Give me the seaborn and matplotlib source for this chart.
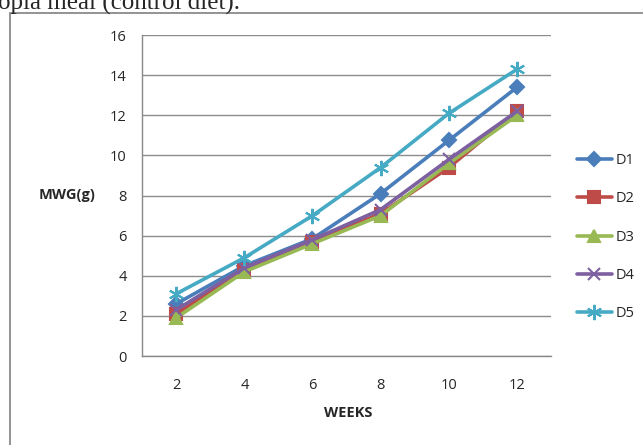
import numpy as np
import pandas as pd
import matplotlib
matplotlib.use("Agg")
import matplotlib.pyplot as plt
import seaborn as sns
from matplotlib.patches import Rectangle
from matplotlib.lines import Line2D

weeks = ["2", "4", "6", "8", "10", "12"]
d1 = [2.6, 4.5, 5.85, 8.1, 10.75, 13.4]
d2 = [2.1, 4.3, 5.7, 7.1, 9.4, 12.2]
d3 = [1.9, 4.2, 5.6, 7.0, 9.6, 12.0]
d4 = [2.3, 4.4, 5.8, 7.3, 9.8, 12.2]
d5 = [3.1, 4.9, 7.0, 9.4, 12.1, 14.3]
diets = ["D1", "D2", "D3", "D4", "D5"]

series = [d1, d2, d3, d4, d5]
colors = {"D1": "#4a7ebb", "D2": "#be4b48", "D3": "#98b954", "D4": "#7d60a0", "D5": "#46aac5"}
markers = {"D1": "D", "D2": "s", "D3": "^", "D4": "x", "D5": (6, 2, 0)}
msizes = {"D1": 7, "D2": 8, "D3": 9, "D4": 9, "D5": 11}

sns.set_style("white")
plt.rcParams['font.family'] = ['Open Sans', 'DejaVu Sans']

fig = plt.figure(figsize=(6.43, 4.45), dpi=100)
ax = fig.add_axes([0.221, 0.2, 0.636, 0.721])

pos = np.arange(len(weeks))
for name, vals in zip(diets, series):
    sns.lineplot(x=pos, y=vals, color=colors[name], marker=markers[name],
                 markersize=msizes[name], markeredgewidth=1.5,
                 markeredgecolor=colors[name], linewidth=2.6, ax=ax)

ax.set_xlim(-0.5, len(weeks) - 0.5)
ax.set_ylim(0, 16)
ax.set_yticks(range(0, 17, 2))
ax.set_xticks(pos)
ax.set_xticklabels(weeks)
ax.set_xticks(np.arange(-0.5, len(weeks), 1), minor=True)
ax.tick_params(axis="x", which="major", length=0, pad=16, labelsize=10.5)
ax.tick_params(axis="x", which="minor", length=6, color="#888888", width=1)
ax.tick_params(axis="y", length=5, color="#888888", width=1, labelsize=10.5, pad=6)
ax.yaxis.grid(True, color="#8c8c8c", linewidth=1)
ax.xaxis.grid(False)
ax.set_axisbelow(True)
for s in ["top", "right"]:
    ax.spines[s].set_visible(False)
for s in ["left", "bottom"]:
    ax.spines[s].set_color("#888888")
    ax.spines[s].set_linewidth(1)

ax.set_xlabel("")
ax.set_ylabel("")
fig.text(0.105, 0.562, "MWG(g)", fontsize=10.5, fontweight="bold", ha="center", va="center")
fig.text(0.542, 0.072, "WEEKS", fontsize=10.5, fontweight="bold", ha="center", va="center")

handles = [Line2D([], [], color=colors[d], marker=markers[d], linewidth=2.6,
                  markersize=msizes[d], markeredgewidth=1.5, markeredgecolor=colors[d])
           for d in diets]
fig.legend(handles, diets, loc="center left", bbox_to_anchor=(0.897, 0.467),
           frameon=False, fontsize=10.5, handlelength=2.4, labelspacing=1.6,
           handletextpad=0.25, borderpad=0, borderaxespad=0)

# outer chart frame and cut caption
fig.patches.append(Rectangle((0.0155, -0.01), 1.0, 0.98, transform=fig.transFigure,
                             fill=False, edgecolor="#808080", linewidth=1.2))
fig.text(-0.003, 0.993, "opia meal (control diet).", family=["Liberation Serif"],
         fontsize=18, ha="left", va="center")

fig.savefig("out.png", dpi=100)
